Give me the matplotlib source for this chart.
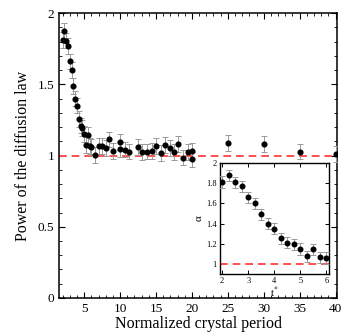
import matplotlib
matplotlib.use("Agg")
import matplotlib.pyplot as plt
from matplotlib.ticker import MultipleLocator, FuncFormatter
import numpy as np

plt.rcParams['font.family'] = ['Liberation Serif', 'DejaVu Serif']
plt.rcParams['mathtext.fontset'] = 'stix'

# Inset data (t* = 2 .. 6)
t_star = [2.0, 2.25, 2.5, 2.75, 3.0, 3.25, 3.5, 3.75, 4.0, 4.25, 4.5, 4.75,
          5.0, 5.25, 5.5, 5.75, 6.0]
alpha = [1.81, 1.877, 1.807, 1.767, 1.66, 1.60, 1.49, 1.40, 1.35, 1.254,
         1.21, 1.195, 1.15, 1.076, 1.145, 1.066, 1.06]
alpha_err = [0.055] * len(t_star)

# Main data: same first points then larger periods
period_extra = [6.5, 7.0, 7.5, 8.0, 8.5, 9.0, 10.0, 10.0, 10.67, 11.3, 12.5,
                13.1, 13.75, 14.4, 15.0, 15.67, 16.3, 16.9, 17.5, 18.1, 18.8,
                19.4, 20.0, 20.0, 25.0, 30.0, 35.0, 40.0]
power_extra = [1.005, 1.067, 1.068, 1.052, 1.113, 1.033, 1.095, 1.043, 1.042,
               1.027, 1.06, 1.024, 1.028, 1.033, 1.067, 1.018, 1.072, 1.053,
               1.026, 1.08, 0.986, 1.026, 1.032, 0.972, 1.09, 1.08, 1.027, 1.009]
period = t_star + period_extra
power = alpha + power_extra
power_err = [0.055] * len(period)

fig = plt.figure(figsize=(3.42, 3.34), dpi=100)
ax = fig.add_axes([0.1725, 0.1078, 0.8129, 0.8532])

ax.errorbar(period, power, yerr=power_err, fmt='o', color='black', ms=3.4,
            ecolor='#999999', elinewidth=0.7, capsize=2, capthick=0.7, zorder=3)
ax.axhline(1.0, color='#ff5050', ls=(0, (4, 2.5)), lw=1.4, zorder=2)

ax.set_xlim(1.5, 40.2)
ax.set_ylim(0, 2)
ax.xaxis.set_major_locator(MultipleLocator(5))
ax.xaxis.set_minor_locator(MultipleLocator(1))
ax.yaxis.set_major_locator(MultipleLocator(0.5))
ax.yaxis.set_minor_locator(MultipleLocator(0.1))
fmt = FuncFormatter(lambda v, p: ('%g' % v))
ax.yaxis.set_major_formatter(fmt)
ax.tick_params(which='both', direction='in', top=True, right=True, labelsize=9.5)
ax.tick_params(which='major', length=4, width=0.8)
ax.tick_params(which='minor', length=2, width=0.6)
for s in ax.spines.values():
    s.set_linewidth(1.1)
ax.set_xlabel('Normalized crystal period', fontsize=11.5, labelpad=1)
ax.set_ylabel('Power of the diffusion law', fontsize=11.5, labelpad=5)

ins = fig.add_axes([0.642, 0.1787, 0.320, 0.3342])
ins.errorbar(t_star, alpha, yerr=alpha_err, fmt='o', color='black', ms=3.3,
             ecolor='#999999', elinewidth=0.7, capsize=2, capthick=0.7, zorder=3)
ins.axhline(1.0, color='#ff5050', ls=(0, (4, 2.5)), lw=1.4, zorder=2)
ins.set_xlim(1.9, 6.1)
ins.set_ylim(0.9, 2.0)
ins.xaxis.set_major_locator(MultipleLocator(1))
ins.yaxis.set_major_locator(MultipleLocator(0.2))
ins.yaxis.set_major_formatter(fmt)
ins.tick_params(which='both', direction='in', top=True, right=True, labelsize=6, pad=2)
ins.tick_params(which='major', length=3, width=0.7)
for s in ins.spines.values():
    s.set_linewidth(1.0)
ins.set_xlabel('t$^{*}$', fontsize=8, labelpad=0)
ins.set_ylabel('α', fontsize=8, labelpad=2)

fig.savefig('out.png', dpi=100)
